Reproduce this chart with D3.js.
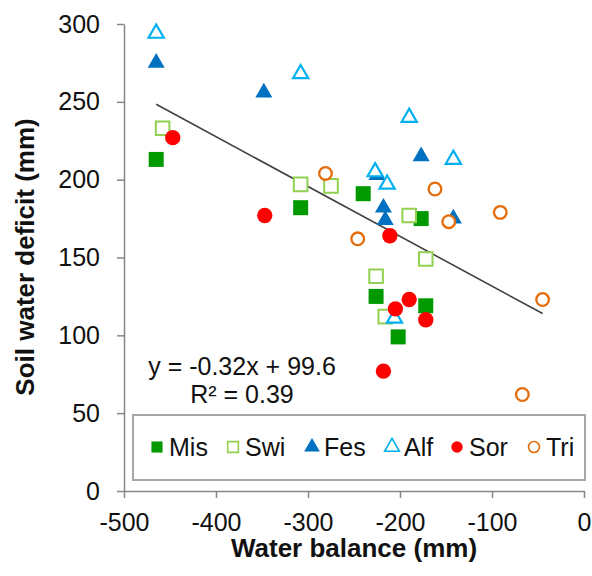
<!DOCTYPE html>
<html><head><meta charset="utf-8">
<script src="https://cdn.jsdelivr.net/npm/d3@7"></script>
<style>
body{margin:0;background:#fff;}
svg{display:block;font-family:"Liberation Sans",Arial,sans-serif;}
</style></head>
<body><svg id="c" width="592" height="576"></svg>
<script>
// ---- data ----
const seriesNames = ["Mis","Swi","Fes","Alf","Sor","Tri"];
const misWB  = [-465,-308,-240,-177,-226,-172,-202];
const misSWD = [213,182,191,175,125,119,99];
const swiWB  = [-458,-308,-275,-190,-172,-226,-216];
const swiSWD = [233,197,196,177,149,138,112];
const fesWB  = [-465,-348,-177,-225,-218,-216,-142];
const fesSWD = [275,256,215,203,182,174,175];
const alfWB  = [-465,-308,-190,-142,-214,-227,-206];
const alfSWD = [294,268,240,213,197,205,111];
const sorWB  = [-447,-347,-211,-190,-205,-172,-218];
const sorSWD = [227,177,164,123,117,110,77];
const triWB  = [-281,-162,-147,-91,-246,-45,-67];
const triSWD = [204,194,173,179,162,123,62];
const xTicks = [-500,-400,-300,-200,-100,0];
const yTicks = [0,50,100,150,200,250,300];
const trendSlope = -0.32, trendIntercept = 99.6;
const eqLines = ["y = -0.32x + 99.6","R\u00B2 = 0.39"];

// ---- styles ----
const styles = {
  Mis:{shape:d3.symbolSquare,size:225,fill:"#009A00",stroke:"none",sw:0},
  Swi:{shape:d3.symbolSquare,size:185,fill:"#fff",stroke:"#92D050",sw:2},
  Fes:{shape:d3.symbolTriangle,size:125,fill:"#0070C0",stroke:"none",sw:0},
  Alf:{shape:d3.symbolTriangle,size:100,fill:"#fff",stroke:"#00B0F0",sw:2.2},
  Sor:{shape:d3.symbolCircle,size:185,fill:"#FF0000",stroke:"none",sw:0},
  Tri:{shape:d3.symbolCircle,size:125,fill:"#fff",stroke:"#E46C0A",sw:2.3}
};
const data = {
  Mis:d3.zip(misWB,misSWD), Swi:d3.zip(swiWB,swiSWD), Fes:d3.zip(fesWB,fesSWD),
  Alf:d3.zip(alfWB,alfSWD), Sor:d3.zip(sorWB,sorSWD), Tri:d3.zip(triWB,triSWD)
};

const svg = d3.select("#c");
const x = d3.scaleLinear().domain([-500,0]).range([124,584]);
const y = d3.scaleLinear().domain([0,300]).range([491,24]);
const axisColor = "#868686";
const fmt = d => String(d);

// axes
const gx = svg.append("g").attr("transform",`translate(0,${y(0)})`)
  .call(d3.axisBottom(x).tickValues(xTicks).tickFormat(fmt).tickSize(7).tickPadding(15).tickSizeOuter(0));
const gy = svg.append("g").attr("transform",`translate(${x(-500)},0)`)
  .call(d3.axisLeft(y).tickValues(yTicks).tickFormat(fmt).tickSize(7).tickPadding(17).tickSizeOuter(0));
[gx,gy].forEach(g=>{
  g.select(".domain").attr("stroke",axisColor).attr("stroke-width",1.5);
  g.selectAll(".tick line").attr("stroke",axisColor).attr("stroke-width",1.5);
  g.selectAll(".tick text").attr("fill","#111").attr("font-size",25)
   .attr("font-family","'Liberation Sans',Arial,sans-serif");
});

// trend line
const allX = [].concat(misWB,swiWB,fesWB,alfWB,sorWB,triWB);
const [xmin,xmax] = d3.extent(allX);
svg.append("line")
  .attr("x1",x(xmin)).attr("y1",y(trendSlope*xmin+trendIntercept))
  .attr("x2",x(xmax)).attr("y2",y(trendSlope*xmax+trendIntercept))
  .attr("stroke","#404040").attr("stroke-width",1.6);

// points
seriesNames.forEach(name=>{
  const s = styles[name];
  svg.append("g").selectAll("path").data(data[name]).join("path")
    .attr("d",d3.symbol().type(s.shape).size(s.size))
    .attr("transform",d=>`translate(${x(d[0])},${y(d[1])})`)
    .attr("fill",s.fill).attr("stroke",s.stroke).attr("stroke-width",s.sw);
});

// equation
svg.append("g").selectAll("text").data(eqLines).join("text")
  .attr("x",242).attr("y",(d,i)=>375+i*28).attr("text-anchor","middle")
  .attr("font-size",25).attr("fill","#111").text(d=>d);

// legend
const lg = svg.append("g");
lg.append("rect").attr("x",133).attr("y",415).attr("width",452).attr("height",65)
  .attr("fill","#fff").attr("stroke","#A6A6A6").attr("stroke-width",2);
const legendX = [157,233,312,392,457,534];
const legendScale = {Mis:0.55,Swi:0.62,Fes:0.85,Alf:0.95,Sor:0.55,Tri:0.75};
seriesNames.forEach((name,i)=>{
  const s = styles[name];
  lg.append("path").attr("d",d3.symbol().type(s.shape).size(s.size*legendScale[name]))
    .attr("transform",`translate(${legendX[i]},447)`)
    .attr("fill",s.fill).attr("stroke",s.stroke).attr("stroke-width",s.sw? Math.min(s.sw,1.6):0);
  lg.append("text").attr("x",legendX[i]+12).attr("y",456).attr("font-size",25)
    .attr("fill","#111").text(name);
});

// axis titles
svg.append("text").attr("x",354).attr("y",557).attr("text-anchor","middle")
  .attr("font-size",26).attr("font-weight","bold").attr("fill","#111").text("Water balance (mm)");
svg.append("text").attr("transform","translate(34,257) rotate(-90)").attr("text-anchor","middle")
  .attr("font-size",26).attr("font-weight","bold").attr("fill","#111").text("Soil water deficit (mm)");
</script></body></html>
